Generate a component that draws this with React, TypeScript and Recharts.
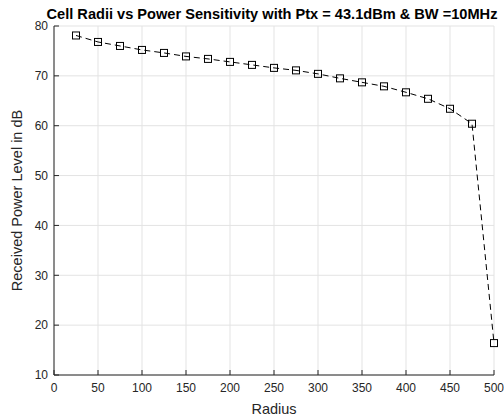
import { LineChart, Line, XAxis, YAxis, CartesianGrid } from 'recharts';

const radius = [25, 50, 75, 100, 125, 150, 175, 200, 225, 250, 275, 300, 325, 350, 375, 400, 425, 450, 475, 500];
const powerLevel = [78.1, 76.8, 76.0, 75.2, 74.6, 73.9, 73.4, 72.8, 72.2, 71.6, 71.1, 70.4, 69.5, 68.7, 67.9, 66.7, 65.4, 63.4, 60.4, 16.4];
const xTicks = [0, 50, 100, 150, 200, 250, 300, 350, 400, 450, 500];
const yTicks = [10, 20, 30, 40, 50, 60, 70, 80];

const data = radius.map((r, i) => ({ radius: r, power: powerLevel[i] }));

const font = '"Liberation Sans", Arial, sans-serif';
const axisColor = '#262626';

function SquareDot(props: any) {
    const { cx, cy, index } = props;
    if (cx == null || cy == null) return null;
    return <rect key={`dot-${index}`} x={cx - 3.5} y={cy - 3.5} width={7} height={7} fill="none" stroke="#000" strokeWidth={1} />;
}

const noLabel = () => null;

function App() {
    return (
        <div style={{ position: 'absolute', left: 0, top: 0, width: 504, height: 419, background: '#fff' }}>
            <LineChart width={504} height={419} data={data} margin={{ top: 26, right: 10, bottom: 14, left: 0 }}>
                <CartesianGrid stroke="#e3e3e3" vertical horizontal />
                <XAxis
                    dataKey="radius"
                    type="number"
                    domain={[0, 500]}
                    ticks={xTicks}
                    height={30}
                    tickSize={-5}
                    tickMargin={13}
                    tickLine={{ stroke: axisColor }}
                    axisLine={{ stroke: axisColor }}
                    tick={{ fill: axisColor, fontSize: 12, fontFamily: font }}
                    label={{ value: 'Radius', position: 'insideBottom', offset: -9, fill: axisColor, fontSize: 14.5, fontFamily: font }}
                />
                <XAxis
                    xAxisId="top"
                    orientation="top"
                    type="number"
                    domain={[0, 500]}
                    ticks={xTicks}
                    height={0}
                    tickSize={-5}
                    tickLine={{ stroke: axisColor }}
                    axisLine={{ stroke: axisColor }}
                    tick={noLabel}
                />
                <YAxis
                    type="number"
                    domain={[10, 80]}
                    ticks={yTicks}
                    width={54}
                    tickSize={-5}
                    tickMargin={11}
                    tickLine={{ stroke: axisColor }}
                    axisLine={{ stroke: axisColor }}
                    tick={{ fill: axisColor, fontSize: 12, fontFamily: font }}
                    label={{ value: 'Received Power Level in dB', angle: -90, position: 'insideLeft', offset: 17, style: { textAnchor: 'middle' }, fill: axisColor, fontSize: 14.5, fontFamily: font }}
                />
                <YAxis
                    yAxisId="right"
                    orientation="right"
                    type="number"
                    domain={[10, 80]}
                    ticks={yTicks}
                    width={0}
                    tickSize={-5}
                    tickLine={{ stroke: axisColor }}
                    axisLine={{ stroke: axisColor }}
                    tick={noLabel}
                />
                <Line
                    dataKey="power"
                    stroke="#000"
                    strokeWidth={1}
                    strokeDasharray="6 4"
                    dot={<SquareDot />}
                    activeDot={false}
                    isAnimationActive={false}
                />
                <text x={272} y={19} textAnchor="middle" fontFamily={font} fontSize={14.6} fontWeight="bold" fill="#000">
                    Cell Radii vs Power Sensitivity with Ptx = 43.1dBm &amp; BW =10MHz
                </text>
            </LineChart>
        </div>
    );
}

export default App;
